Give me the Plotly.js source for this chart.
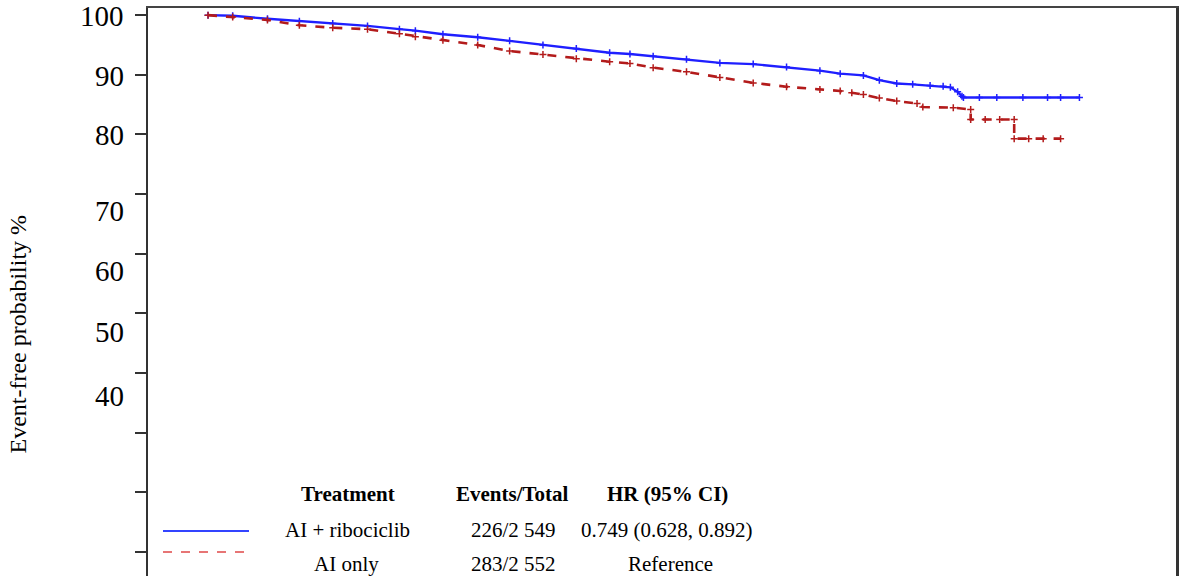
<!DOCTYPE html>
<html>
<head>
<meta charset="utf-8">
<script src="https://cdn.plot.ly/plotly-3.0.1.min.js"></script>
<style>html,body{margin:0;padding:0;background:#fff;}#chart{width:1180px;height:576px;}</style>
</head>
<body>
<div id="chart"></div>
<script>
// Kaplan-Meier estimates (time in months, event-free probability %)
const blueTime = [0, 1.7, 4.1, 6.3, 8.6, 11.0, 13.2, 14.3, 16.2, 18.6, 20.8, 23.1, 25.4, 27.7, 29.1, 30.7, 33.0, 35.3, 37.6, 39.9, 42.2, 43.6, 45.2, 46.3, 47.5, 48.6, 49.8, 50.7, 51.2, 51.7, 52.0, 52.1, 53.2, 54.4, 56.2, 57.9, 58.8, 60.1];
const blueProb = [100, 99.9, 99.4, 99.0, 98.6, 98.2, 97.65, 97.4, 96.8, 96.3, 95.7, 95.0, 94.4, 93.7, 93.5, 93.1, 92.6, 92.0, 91.8, 91.3, 90.7, 90.2, 89.9, 89.1, 88.55, 88.4, 88.2, 88.1, 87.9, 87.15, 86.4, 86.2, 86.2, 86.2, 86.2, 86.2, 86.2, 86.2];
const redTime = [0, 1.7, 4.1, 6.3, 8.6, 11.0, 13.2, 14.3, 16.2, 18.6, 20.8, 23.1, 25.4, 27.7, 29.1, 30.7, 33.0, 35.3, 37.6, 39.9, 42.2, 43.6, 44.4, 45.2, 46.3, 47.5, 48.9, 49.3, 51.4, 52.6, 52.6, 53.6, 54.6, 55.6, 55.6, 56.6, 57.6, 58.8];
const redProb = [100, 99.7, 99.2, 98.3, 97.9, 97.65, 96.9, 96.4, 95.8, 95.0, 94.0, 93.4, 92.7, 92.2, 91.9, 91.2, 90.5, 89.55, 88.65, 88.0, 87.55, 87.3, 87.0, 86.7, 86.1, 85.6, 85.2, 84.6, 84.5, 84.2, 82.5, 82.5, 82.5, 82.5, 79.3, 79.3, 79.3, 79.3];

const yTickVals = [10, 20, 30, 40, 50, 60, 70, 80, 90, 100];
const yLabelText = ['100', '90', '80', '70', '60', '50', '40'];
const yLabelPos = [99.83, 89.78, 79.9, 67.15, 57.1, 46.9, 36.15];

const tableHeader = ['Treatment', 'Events/Total', 'HR (95% CI)'];
const treatments = ['AI + ribociclib', 'AI only'];
const eventsTotal = ['226/2 549', '283/2 552'];
const hrText = ['0.749 (0.628, 0.892)', 'Reference'];

const W = 1180, H = 576, ML = 148, MR = 4, MT = 8, MB = 0;
const PW = W - ML - MR, PH = H - MT - MB;
const px = x => (x - ML) / PW;
const py = y => (H - MB - y) / PH;
const serif = 'Liberation Serif, Times New Roman, serif';

const traces = [
  {x: blueTime, y: blueProb, type: 'scatter', mode: 'lines+markers', name: treatments[0],
   line: {color: '#1f1fff', width: 2.4}, marker: {symbol: 'cross-thin', size: 5, line: {color: '#1f1fff', width: 1.5}}},
  {x: redTime, y: redProb, type: 'scatter', mode: 'lines+markers', name: treatments[1],
   line: {color: '#b31b1b', width: 2.6, dash: 'dash'}, marker: {symbol: 'cross-thin', size: 5, line: {color: '#b31b1b', width: 1.5}}}
];

const ann = [];
yLabelText.forEach((t, i) => ann.push({xref: 'paper', yref: 'y', x: px(126), y: yLabelPos[i], text: t, showarrow: false,
  xanchor: 'right', yanchor: 'middle', font: {family: serif, size: 29, color: '#000'}}));
ann.push({xref: 'paper', yref: 'paper', x: px(17.5), y: py(334), text: 'Event-free probability %', textangle: -90, showarrow: false,
  xanchor: 'center', yanchor: 'middle', font: {family: serif, size: 24, color: '#000'}});
const colX = [348, 512.5, 667];
tableHeader.forEach((t, i) => ann.push({xref: 'paper', yref: 'paper', x: px(colX[i]), y: py(494), text: '<b>' + t + '</b>', showarrow: false,
  xanchor: 'center', yanchor: 'middle', font: {family: serif, size: 21, color: '#000'}}));
const rowY = [530, 564];
const rowX = [[347, 513.5, 667], [346, 513.5, 670]];
for (let r = 0; r < 2; r++) {
  [treatments[r], eventsTotal[r], hrText[r]].forEach((t, i) => ann.push({xref: 'paper', yref: 'paper', x: px(rowX[r][i]), y: py(rowY[r]), text: t,
    showarrow: false, xanchor: 'center', yanchor: 'middle', font: {family: serif, size: 21, color: '#000'}}));
}

const shapes = [
  {type: 'line', xref: 'paper', yref: 'paper', x0: px(163), x1: px(249), y0: py(531), y1: py(531), line: {color: '#3344ff', width: 2}},
  {type: 'line', xref: 'paper', yref: 'paper', x0: px(163), x1: px(249), y0: py(552), y1: py(552), line: {color: '#e04848', width: 1.5, dash: 'dash'}}
];

const layout = {
  width: W, height: H,
  margin: {l: ML, r: MR, t: MT, b: MB, pad: 0},
  paper_bgcolor: '#fff', plot_bgcolor: '#fff',
  showlegend: false,
  xaxis: {range: [-4.14, 66.76], showgrid: false, zeroline: false, showticklabels: false, ticks: '',
    showline: true, mirror: true, linecolor: '#444', linewidth: 2},
  yaxis: {range: [6.0, 101.2], showgrid: false, zeroline: false, tickvals: yTickVals, showticklabels: false,
    ticks: 'outside', ticklen: 11, tickwidth: 2, tickcolor: '#333',
    showline: true, mirror: true, linecolor: '#333', linewidth: 2.5},
  annotations: ann,
  shapes: shapes
};

Plotly.newPlot('chart', traces, layout, {displayModeBar: false, staticPlot: true});
</script>
</body>
</html>
